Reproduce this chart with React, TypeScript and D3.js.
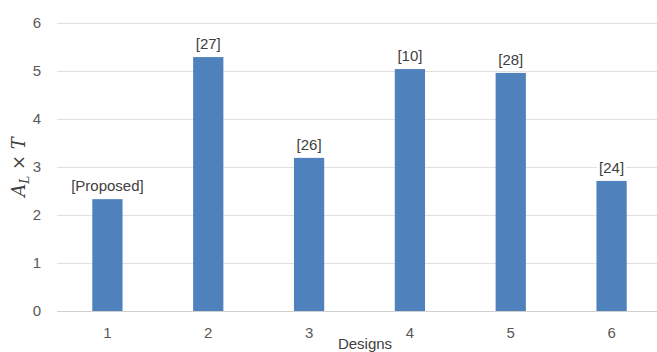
import React from "react";
import * as d3 from "d3";

const categories = ["1", "2", "3", "4", "5", "6"];
const values = [2.33, 5.29, 3.19, 5.04, 4.96, 2.71];
const barLabels = ["[Proposed]", "[27]", "[26]", "[10]", "[28]", "[24]"];
const yTicks = [0, 1, 2, 3, 4, 5, 6];

const W = 657;
const H = 352;

export default function App() {
  const x = d3.scaleBand<string>().domain(categories).range([57, 662]).paddingInner(0.7).paddingOuter(0.35);
  const y = d3.scaleLinear().domain([0, 6]).range([311, 23]);
  const font = "'Liberation Sans', Arial, sans-serif";
  return (
    <svg width={W} height={H} style={{ position: "absolute", left: 0, top: 0, background: "#fff" }}>
      <rect x={0} y={0} width={W} height={H} fill="#fff" />
      {yTicks.map((t) => (
        <g key={t}>
          <line x1={57} x2={W} y1={y(t) + 0.5} y2={y(t) + 0.5} stroke={t === 0 ? "#d0d0d0" : "#e0e0e0"} strokeWidth={1} />
          <text x={41} y={y(t)} dy="0.35em" textAnchor="end" fontFamily={font} fontSize={15} fill="#595959">{t}</text>
        </g>
      ))}
      {categories.map((c, i) => {
        const bx = x(c)!;
        const bw = x.bandwidth();
        const cx = bx + bw / 2;
        const top = y(values[i]);
        return (
          <g key={c}>
            <rect x={bx} y={top} width={bw} height={y(0) - top} fill="#4F81BD" />
            <text x={cx} y={top - 8} textAnchor="middle" fontFamily={font} fontSize={15} fill="#404040"
              stroke="#fff" strokeWidth={6} paintOrder="stroke">{barLabels[i]}</text>
            <text x={cx} y={333} dy="0.35em" textAnchor="middle" fontFamily={font} fontSize={15} fill="#595959">{c}</text>
          </g>
        );
      })}
      <text x={(57 + W) / 2 + 8} y={349} textAnchor="middle" fontFamily={font} fontSize={15} fill="#404040">Designs</text>
      <g transform={`translate(25, 167) rotate(-90)`}>
        <text textAnchor="middle" fontFamily="'DejaVu Serif', 'Liberation Serif', serif" fontSize={18} fill="#404040">
          <tspan fontStyle="italic">A</tspan>
          <tspan fontStyle="italic" fontSize={12} dy={4}>L</tspan>
          <tspan dy={-4}> × </tspan>
          <tspan fontStyle="italic">T</tspan>
        </text>
      </g>
    </svg>
  );
}
